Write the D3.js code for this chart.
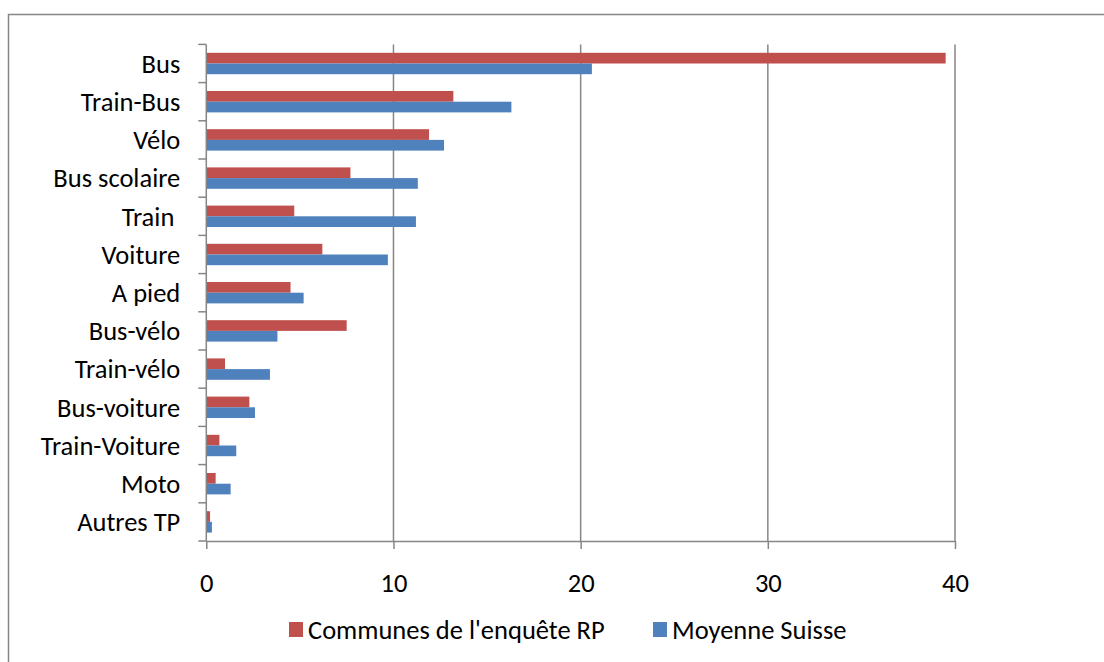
<!DOCTYPE html>
<html>
<head>
<meta charset="utf-8">
<script src="https://cdn.jsdelivr.net/npm/d3@7/dist/d3.min.js"></script>
<style>
  body { margin: 0; background: #fff; }
  svg { display: block; font-family: Carlito, Calibri, Lato, sans-serif; }
  .lbl { white-space: pre; }
</style>
</head>
<body>
<script>
var categories = ["Bus", "Train-Bus", "Vélo", "Bus scolaire", "Train ", "Voiture", "A pied",
                  "Bus-vélo", "Train-vélo", "Bus-voiture", "Train-Voiture", "Moto", "Autres TP"];
var seriesNames = ["Communes de l'enquête RP", "Moyenne Suisse"];
var communes = [39.5, 13.2, 11.9, 7.7, 4.7, 6.2, 4.5, 7.5, 1.0, 2.3, 0.7, 0.5, 0.2];
var moyenne  = [20.6, 16.3, 12.7, 11.3, 11.2, 9.7, 5.2, 3.8, 3.4, 2.6, 1.6, 1.3, 0.3];
var xTicks = [0, 10, 20, 30, 40];
var colors = ["#C0504D", "#4F81BD"];

var width = 1104, height = 662;
var margin = { top: 44.4, left: 206.3, right: 149, bottom: 121 };
var fontSize = 26.5;

var svg = d3.select("body").append("svg")
    .attr("width", width)
    .attr("height", height);

// outer chart border (right and bottom edges fall outside the picture)
svg.append("rect")
    .attr("x", 8.5).attr("y", 14.5)
    .attr("width", width).attr("height", height)
    .attr("fill", "#fff")
    .attr("stroke", "#868686").attr("stroke-width", 1.5);

var x = d3.scaleLinear()
    .domain([0, 40])
    .range([margin.left, width - margin.right]);

var y = d3.scaleBand()
    .domain(categories)
    .range([margin.top, height - margin.bottom]);

var bw = y.bandwidth();
var ySeries = d3.scaleBand()
    .domain(seriesNames)
    .range([bw * 0.22, bw * 0.78]);

// vertical gridlines
svg.append("g")
  .selectAll("line")
  .data(xTicks.slice(1))
  .enter().append("line")
    .attr("x1", d => x(d)).attr("x2", d => x(d))
    .attr("y1", margin.top).attr("y2", height - margin.bottom)
    .attr("stroke", "#868686").attr("stroke-width", 1.5);

// bars
var rows = categories.map((c, i) => ({ cat: c, vals: [communes[i], moyenne[i]] }));

var groups = svg.append("g")
  .selectAll("g")
  .data(rows)
  .enter().append("g")
    .attr("transform", d => "translate(0," + y(d.cat) + ")");

groups.selectAll("rect")
  .data(d => d.vals.map((v, j) => ({ name: seriesNames[j], v: v, j: j })))
  .enter().append("rect")
    .attr("x", x(0))
    .attr("y", d => ySeries(d.name))
    .attr("width", d => x(d.v) - x(0))
    .attr("height", ySeries.bandwidth())
    .attr("fill", d => colors[d.j]);

// x axis
var xAxis = svg.append("g")
    .attr("transform", "translate(0," + (height - margin.bottom) + ")")
    .call(d3.axisBottom(x).tickValues(xTicks).tickSize(8).tickSizeOuter(0).tickPadding(24));
xAxis.select(".domain").attr("stroke", "#868686").attr("stroke-width", 1.5);
xAxis.selectAll(".tick line").attr("stroke", "#868686").attr("stroke-width", 1.5);
xAxis.selectAll(".tick text")
    .attr("fill", "#000")
    .style("font-size", fontSize + "px")
    .style("font-family", "Carlito, Calibri, Lato, sans-serif");

// y axis: line + ticks between categories
var yAxisG = svg.append("g");
yAxisG.append("line")
    .attr("x1", x(0)).attr("x2", x(0))
    .attr("y1", margin.top).attr("y2", height - margin.bottom)
    .attr("stroke", "#868686").attr("stroke-width", 1.5);
var bounds = categories.map(c => y(c)).concat([y.range()[1]]);
yAxisG.selectAll(".ytick")
  .data(bounds)
  .enter().append("line")
    .attr("class", "ytick")
    .attr("x1", x(0) - 8).attr("x2", x(0))
    .attr("y1", d => d).attr("y2", d => d)
    .attr("stroke", "#868686").attr("stroke-width", 1.5);

yAxisG.selectAll("text")
  .data(categories)
  .enter().append("text")
    .attr("class", "lbl")
    .attr("x", x(0) - 26)
    .attr("y", d => y(d) + bw / 2)
    .attr("dy", "0.35em")
    .attr("text-anchor", "end")
    .style("font-size", fontSize + "px")
    .text(d => d);

// legend
var legendItems = [
  { name: seriesNames[0], color: colors[0], x: 289 },
  { name: seriesNames[1], color: colors[1], x: 653 }
];
var legend = svg.append("g").attr("class", "legend");
var lg = legend.selectAll("g")
  .data(legendItems)
  .enter().append("g")
    .attr("transform", d => "translate(" + d.x + ",622)");
lg.append("rect")
    .attr("width", 14).attr("height", 15)
    .attr("fill", d => d.color);
lg.append("text")
    .attr("x", 19).attr("y", 7.5)
    .attr("dy", "0.35em")
    .style("font-size", fontSize + "px")
    .text(d => d.name);
</script>
</body>
</html>
